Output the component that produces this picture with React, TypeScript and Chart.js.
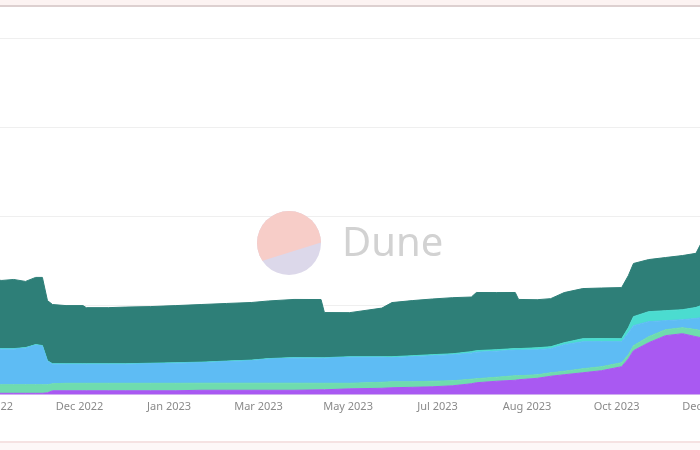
import React, { useEffect, useRef } from 'react';
import { Chart, registerables } from 'chart.js';

Chart.register(...registerables);

// Days since 2022-10-10
const days = [0, 7, 14, 21, 27, 31, 34, 37, 45, 55, 57, 70, 80, 95, 110, 125, 140, 155, 165, 180, 196, 198, 213, 232, 238, 250, 262, 274, 285, 288, 300, 311, 313, 324, 332, 340, 351, 362, 374, 378, 381, 390, 400, 410, 418, 421, 426];

const tickDays = [0, 53, 106, 159, 212, 265, 318, 371, 424];
const tickLabels = ['Oct 2022', 'Dec 2022', 'Jan 2023', 'Mar 2023', 'May 2023', 'Jul 2023', 'Aug 2023', 'Oct 2023', 'Dec 2023'];

const purple = [1.7, 1.7, 1.7, 1.7, 1.7, 1.7, 2.2, 4.5, 4.5, 4.5, 4.5, 4.5, 4.5, 4.5, 4.5, 5.1, 5.1, 5.1, 5.1, 5.1, 5.6, 5.6, 6.7, 7.3, 7.9, 8.4, 9.0, 10.1, 12.4, 13.5, 15.2, 16.3, 16.9, 18.5, 20.8, 22.5, 24.7, 27.0, 31.5, 40.4, 49.4, 58.4, 66.3, 68.5, 65.2, 64.0, 64.0];
const mint = [9.6, 9.6, 9.6, 9.6, 9.6, 9.6, 9.0, 7.9, 8.4, 8.4, 8.4, 8.4, 8.4, 8.4, 8.4, 7.9, 7.9, 7.9, 7.9, 7.9, 7.3, 7.3, 6.2, 6.7, 6.7, 6.2, 6.2, 5.6, 5.1, 4.5, 4.5, 5.1, 4.5, 3.9, 3.9, 3.9, 4.5, 4.5, 4.5, 4.5, 5.6, 6.7, 6.7, 6.7, 7.9, 7.9, 7.9];
const lightBlue = [41.0, 39.9, 39.9, 41.0, 44.4, 43.3, 26.4, 21.9, 21.3, 21.3, 21.3, 21.3, 21.3, 21.9, 22.5, 23.0, 24.2, 25.3, 27.0, 28.1, 28.1, 28.1, 29.2, 28.1, 27.0, 28.1, 28.7, 29.2, 29.2, 29.8, 29.2, 28.7, 28.7, 28.1, 27.0, 29.8, 30.3, 28.1, 23.5, 24.8, 22.5, 16.9, 10.1, 9.0, 12.4, 14.6, 15.7];
const turquoise = [0.6, 0.6, 0.6, 0.6, 0.6, 0.6, 0.6, 0.6, 0.6, 0.6, 0.6, 0.6, 0.6, 0.6, 0.6, 0.6, 0.6, 0.6, 0.6, 0.6, 0.6, 0.6, 0.6, 0.6, 1.1, 1.1, 1.1, 1.1, 1.7, 1.7, 1.7, 1.7, 1.7, 2.2, 2.2, 2.2, 3.4, 3.4, 3.4, 5.6, 10.1, 11.2, 11.2, 11.2, 12.4, 13.5, 13.5];
const teal = [76.4, 76.4, 77.5, 74.2, 75.3, 76.4, 67.4, 66.3, 65.2, 65.2, 62.9, 62.9, 63.5, 63.5, 64.0, 64.6, 64.6, 64.6, 64.6, 65.2, 65.2, 50.6, 49.4, 54.5, 60.7, 61.8, 62.4, 62.9, 61.2, 65.2, 64.0, 62.9, 55.1, 53.9, 53.9, 56.2, 56.2, 56.7, 57.3, 58.4, 59.6, 58.4, 59.6, 60.7, 60.7, 69.7, 70.8];

const seriesNames = ['Series 1', 'Series 2', 'Series 3', 'Series 4', 'Series 5'];
const seriesValues = [purple, mint, lightBlue, turquoise, teal];
const seriesColors = ['#a959f2', '#6fdcae', '#5ebcf4', '#4bdcd0', '#2e7f78'];

const SHIFT = 100;

const watermark = {
  id: 'duneWatermark',
  beforeDatasetsDraw(chart: any) {
    const ctx = chart.ctx;
    const cx = 289 + SHIFT;
    const cy = 243;
    const r = 32;
    ctx.save();
    ctx.beginPath();
    ctx.arc(cx, cy, r, 0, Math.PI * 2);
    ctx.clip();
    ctx.fillStyle = '#dcd8ea';
    ctx.fillRect(cx - r, cy - r, 2 * r, 2 * r);
    ctx.beginPath();
    ctx.moveTo(cx - r - 2, cy - r - 2);
    ctx.lineTo(cx + r + 2, cy - r - 2);
    ctx.lineTo(cx + r + 2, cy - 1);
    ctx.lineTo(cx - r - 2, cy + 20);
    ctx.closePath();
    ctx.fillStyle = '#f7cdc8';
    ctx.fill();
    ctx.restore();
    ctx.save();
    ctx.fillStyle = '#d2d2d2';
    ctx.font = '40px "Noto Sans"';
    ctx.textBaseline = 'alphabetic';
    ctx.textAlign = 'left';
    ctx.fillText('Dune', 342 + SHIFT, 256);
    ctx.restore();
  },
};

export default function App() {
  const ref = useRef<HTMLCanvasElement>(null);
  useEffect(() => {
    if (!ref.current) return;
    const chart = new Chart(ref.current, {
      type: 'line',
      data: {
        datasets: seriesValues.map((vals, i) => ({
          label: seriesNames[i],
          data: days.map((d, j) => ({ x: d, y: vals[j] })),
          backgroundColor: seriesColors[i],
          borderColor: seriesColors[i],
          borderWidth: 1,
          pointRadius: 0,
          tension: 0,
          fill: i === 0 ? 'origin' : '-1',
        })),
      },
      options: {
        responsive: false,
        animation: false,
        layout: { padding: { left: 10, right: 10, top: 38, bottom: 32 } },
        plugins: { legend: { display: false }, tooltip: { enabled: false } },
        scales: {
          x: {
            type: 'linear',
            min: -47.4,
            max: 473.7,
            grid: { display: false, drawTicks: false },
            border: { display: true, color: '#ececec' },
            ticks: {
              padding: 5,
              maxRotation: 0,
              autoSkip: false,
              color: '#8a8a8a',
              font: { family: '"Noto Sans"', size: 11 },
              callback: (v: any) => {
                const i = tickDays.indexOf(Number(v));
                return i >= 0 ? tickLabels[i] : '';
              },
            },
            afterBuildTicks: (scale: any) => {
              scale.ticks = tickDays.map((v) => ({ value: v }));
            },
          },
          y: {
            stacked: true,
            min: 0,
            max: 400,
            ticks: { display: false, stepSize: 100 },
            grid: { color: '#efefef', drawTicks: false },
            border: { display: false },
          },
        },
      },
      plugins: [watermark],
    });
    return () => chart.destroy();
  }, []);
  return (
    <div style={{ position: 'fixed', left: 0, top: 0, width: 700, height: 450, overflow: 'hidden', background: '#fff' }}>
      <div style={{ position: 'absolute', left: 0, top: 0, width: 700, height: 5, background: '#fcf3f2' }} />
      <div style={{ position: 'absolute', left: 0, top: 5, width: 700, height: 2, background: '#ddd0d0' }} />
      <div style={{ position: 'absolute', left: 0, top: 441, width: 700, height: 2, background: '#f5e2e2' }} />
      <div style={{ position: 'absolute', left: 0, top: 443, width: 700, height: 7, background: '#fdf7f7' }} />
      <canvas ref={ref} width={900} height={450} style={{ position: 'absolute', left: -SHIFT, top: 0, width: 900, height: 450 }} />
    </div>
  );
}
